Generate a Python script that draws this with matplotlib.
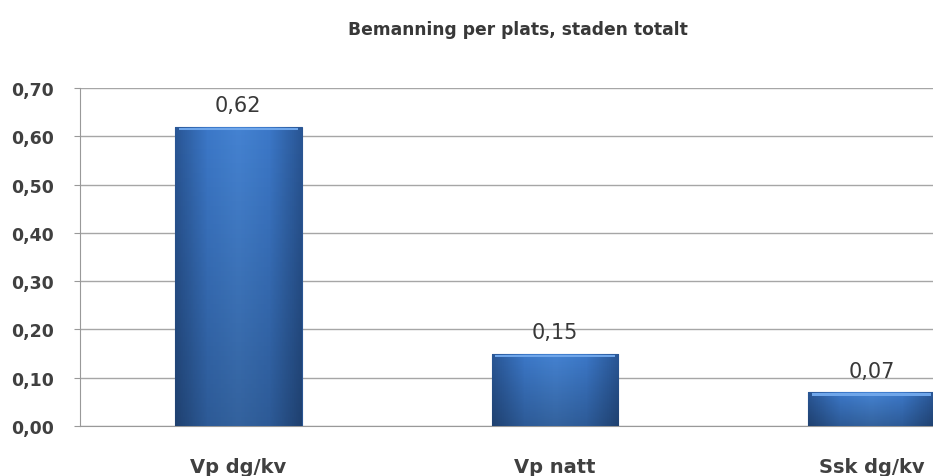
import numpy as np
import matplotlib
matplotlib.use("Agg")
import matplotlib.pyplot as plt
from matplotlib.colors import LinearSegmentedColormap

categories = ["Vp dg/kv", "Vp natt", "Ssk dg/kv"]
values     = [0.62, 0.15, 0.07]
valLabels  = ["0,62", "0,15", "0,07"]
yTicks     = [0.0, 0.1, 0.2, 0.3, 0.4, 0.5, 0.6, 0.7]
yTickLbls  = ["0,00", "0,10", "0,20", "0,30", "0,40", "0,50", "0,60", "0,70"]
title      = "Bemanning per plats, staden totalt"

plt.rcParams["font.family"] = ["DejaVu Sans"]

fig = plt.figure(figsize=(9.33, 4.77), dpi=100)
ax = fig.add_axes([80/933, 1-427/477, 950/933, 338/477])

x = np.arange(len(categories))
barW = 0.4
bars = ax.bar(x, values, width=barW, color="#3a70c0", edgecolor="#2a5592", linewidth=0.8, zorder=3)

# gradient: dark edges, lighter middle, light strip on top
cmap = LinearSegmentedColormap.from_list("bl", ["#2a5796", "#3c78c8", "#4583d2", "#3c78c8", "#2a5796"])
grad = np.linspace(0, 1, 64).reshape(1, -1)
for b in bars:
  x0, w, h = b.get_x(), b.get_width(), b.get_height()
  im = ax.imshow(grad, extent=[x0, x0+w, 0, h], aspect="auto", cmap=cmap, zorder=4)
  im.set_clip_path(b)
  # vertical darkening toward the bottom
  vg = np.linspace(0, 1, 64).reshape(-1, 1)
  im2 = ax.imshow(np.dstack([np.zeros((64, 1))]*3 + [vg*0.25]), extent=[x0, x0+w, 0, h], aspect="auto", zorder=5, origin="upper")
  im2.set_clip_path(b)
  ax.fill_between([x0+w*0.03, x0+w*0.97], h-0.008, h-0.002, color="#6fa6ea", zorder=6, linewidth=0)

for xi, v, lbl in zip(x, values, valLabels):
  ax.text(xi, v + 0.024, lbl, ha="center", va="bottom", fontsize=15, color="#383838", zorder=7)

ax.set_xlim(-0.5, len(categories) - 0.5)
ax.set_ylim(0, 0.7)
ax.set_yticks(yTicks)
ax.set_yticklabels(yTickLbls, fontsize=12.5, fontweight="bold", color="#404040")
ax.set_xticks(x)
ax.set_xticklabels(categories, fontsize=14, fontweight="bold", color="#404040")
ax.tick_params(axis="x", length=0, pad=22)
ax.tick_params(axis="y", length=4, color="#999999", pad=15)
ax.yaxis.grid(True, color="#a6a6a6", linewidth=1, zorder=0)
ax.set_axisbelow(True)
for s in ["top", "right"]:
  ax.spines[s].set_visible(False)
ax.spines["left"].set_color("#999999")
ax.spines["bottom"].set_color("#999999")

fig.text(518/933, 1-30/477, title, ha="center", va="center", fontsize=12.3, fontweight="bold", color="#383838")

fig.savefig("out.png", dpi=100)
